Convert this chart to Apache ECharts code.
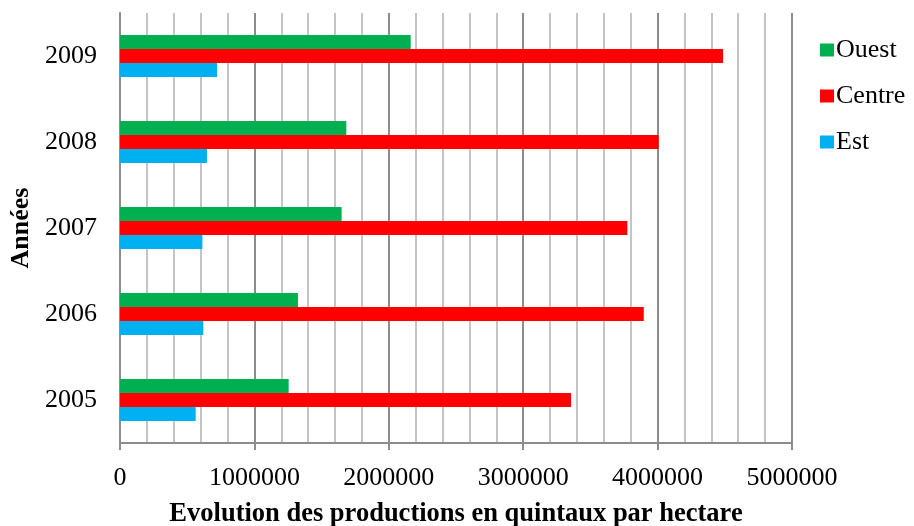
<!DOCTYPE html>
<html>
<head>
<meta charset="utf-8">
<script src="https://cdn.jsdelivr.net/npm/echarts@6/dist/echarts.min.js"></script>
<style>
  html, body { margin: 0; padding: 0; background: #fff; }
  #chart { width: 914px; height: 526px; }
</style>
</head>
<body>
<div id="chart"></div>
<script>
// Years shown on the category axis (bottom to top)
const years = ['2005', '2006', '2007', '2008', '2009'];

// Production per region, in quintals per hectare
const ouest  = [1255000, 1324000, 1649000, 1684000, 2163000];
const centre = [3356000, 3897000, 3775000, 4008000, 4487000];
const est    = [563000, 620000, 613000, 647000, 722000];

// Tick values on the production axis
const xTicks = [0, 1000000, 2000000, 3000000, 4000000, 5000000];

const serif = '"Liberation Serif", "Times New Roman", serif';

const chart = echarts.init(document.getElementById('chart'), null, { renderer: 'canvas' });

chart.setOption({
  animation: false,
  backgroundColor: '#ffffff',
  textStyle: { fontFamily: serif, color: '#000' },
  grid: { left: 120, right: 122, top: 13, bottom: 83, containLabel: false, outerBoundsMode: 'none' },
  legend: {
    orient: 'vertical',
    left: 815,
    top: 30,
    data: ['Ouest', 'Centre', 'Est'],
    icon: 'rect',
    itemWidth: 14,
    itemHeight: 13,
    itemGap: 16,
    textStyle: { fontFamily: serif, fontSize: 26, color: '#000', lineHeight: 30, padding: [0, 0, 0, -3] }
  },
  xAxis: {
    type: 'value',
    min: xTicks[0],
    max: xTicks[xTicks.length - 1],
    interval: xTicks[1] - xTicks[0],
    name: 'Evolution des productions en quintaux par hectare',
    nameLocation: 'middle',
    nameGap: 58,
    nameTextStyle: { fontFamily: serif, fontSize: 26.5, fontWeight: 'bold', color: '#000' },
    axisLine: { show: true, lineStyle: { color: '#8c8c8c', width: 2 } },
    axisTick: { show: true, length: 7, lineStyle: { color: '#8c8c8c', width: 2 } },
    axisLabel: {
      fontFamily: serif, fontSize: 26, color: '#000', margin: 22,
      formatter: v => String(v)
    },
    splitLine: { show: true, lineStyle: { color: '#8c8c8c', width: 2 } },
    minorTick: { show: false, splitNumber: 5 },
    minorSplitLine: { show: true, lineStyle: { color: '#c4c4c4', width: 2 } }
  },
  yAxis: {
    type: 'category',
    data: years,
    name: 'Années',
    nameLocation: 'middle',
    nameRotate: 90,
    nameGap: 78,
    nameTextStyle: { fontFamily: serif, fontSize: 26, fontWeight: 'bold', color: '#000' },
    axisLine: { show: true, lineStyle: { color: '#8c8c8c', width: 2 } },
    axisTick: { show: false },
    axisLabel: { fontFamily: serif, fontSize: 26, color: '#000', margin: 23 },
    splitLine: { show: false }
  },
  series: [
    { name: 'Ouest', type: 'bar', data: ouest, barWidth: 14, barGap: '0%', itemStyle: { color: '#00B050' } },
    { name: 'Centre', type: 'bar', data: centre, barWidth: 14, barGap: '0%', itemStyle: { color: '#FF0000' } },
    { name: 'Est', type: 'bar', data: est, barWidth: 14, barGap: '0%', itemStyle: { color: '#00B0F0' } }
  ]
});
</script>
</body>
</html>
